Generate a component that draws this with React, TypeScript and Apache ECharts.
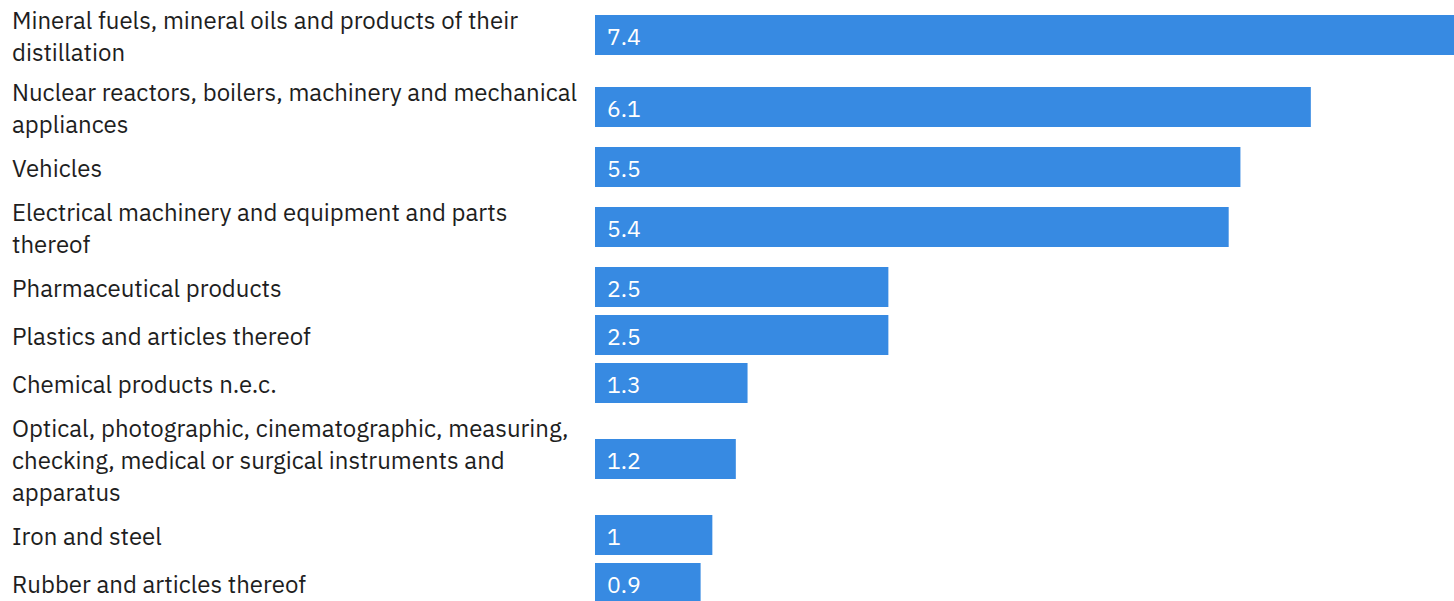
import React, { useEffect, useRef } from "react";
import * as echarts from "echarts";

const categories: string[] = [
  "Mineral fuels, mineral oils and products of their\ndistillation",
  "Nuclear reactors, boilers, machinery and mechanical\nappliances",
  "Vehicles",
  "Electrical machinery and equipment and parts\nthereof",
  "Pharmaceutical products",
  "Plastics and articles thereof",
  "Chemical products n.e.c.",
  "Optical, photographic, cinematographic, measuring,\nchecking, medical or surgical instruments and\napparatus",
  "Iron and steel",
  "Rubber and articles thereof",
];

const values: number[] = [7.4, 6.1, 5.5, 5.4, 2.5, 2.5, 1.3, 1.2, 1, 0.9];
const valueLabels: string[] = ["7.4", "6.1", "5.5", "5.4", "2.5", "2.5", "1.3", "1.2", "1", "0.9"];

const FONT = "'IBM Plex Sans', 'Noto Sans', sans-serif";
const LINE_H = 32;
const ROW_MIN = 48;
const ROW_PAD = 8;
const BAR_H = 40;

export default function App() {
  const ref = useRef<HTMLDivElement>(null);
  useEffect(() => {
    if (!ref.current) return;
    const chart = echarts.init(ref.current, undefined, { renderer: "svg" });

    // Row layout positions derived from label line counts
    const centers: number[] = [];
    let acc = 0;
    categories.forEach((c) => {
      const lines = c.split("\n").length;
      const h = Math.max(ROW_MIN, lines * LINE_H + ROW_PAD);
      centers.push(acc + h / 2);
      acc += h;
    });

    const data = values.map((v, i) => [v, centers[i], i]);

    chart.setOption({
      animation: false,
      grid: { left: 595, right: 0, top: 0, bottom: 0 },
      xAxis: { type: "value", min: 0, max: 7.32, show: false },
      yAxis: { type: "value", inverse: true, min: 1, max: 602, show: false },
      series: [
        {
          type: "custom",
          data,
          encode: { x: 0, y: 1 },
          renderItem: (params: any, api: any) => {
            const v = api.value(0);
            const c = api.value(1);
            const idx = api.value(2);
            const start = api.coord([0, c]);
            const end = api.coord([v, c]);
            const h = api.size([0, BAR_H])[1];
            return {
              type: "group",
              children: [
                {
                  type: "rect",
                  shape: { x: start[0], y: start[1] - h / 2, width: end[0] - start[0], height: h },
                  style: { fill: "#378ae2" },
                },
                {
                  type: "text",
                  style: {
                    text: valueLabels[idx],
                    x: start[0] + 12,
                    y: start[1] + 1,
                    fill: "#ffffff",
                    fontSize: 23,
                    fontFamily: FONT,
                    align: "left",
                    verticalAlign: "middle",
                  },
                },
                {
                  type: "text",
                  style: {
                    text: categories[idx],
                    x: 12,
                    y: start[1] + 1,
                    fill: "#1e1e1e",
                    fontSize: 24,
                    lineHeight: LINE_H,
                    fontFamily: FONT,
                    align: "left",
                    verticalAlign: "middle",
                  },
                },
              ],
            };
          },
        },
      ],
    });
    return () => chart.dispose();
  }, []);
  return (
    <div
      ref={ref}
      style={{ position: "absolute", left: 0, top: 0, width: 1454, height: 601, background: "#fff" }}
    />
  );
}
